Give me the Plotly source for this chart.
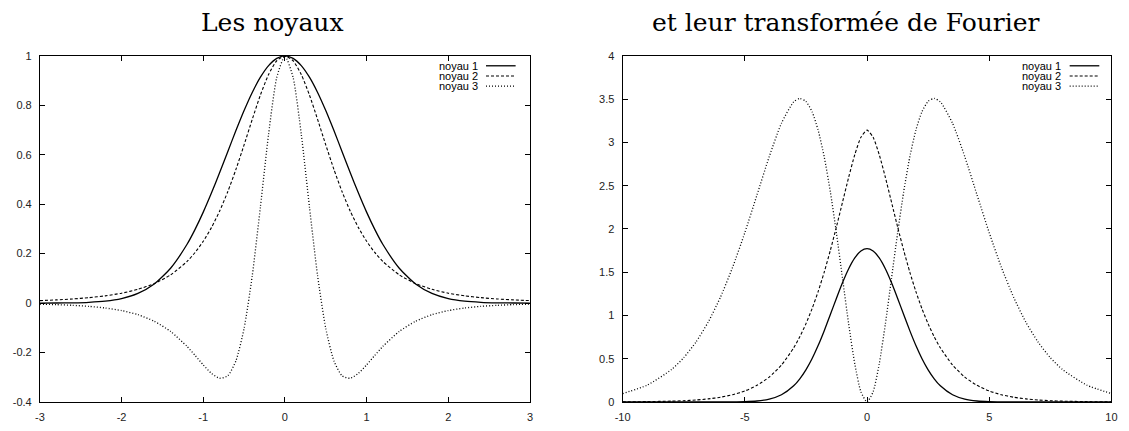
import plotly.graph_objects as go

# ---- noyaux (left panel) ----
x_noyau = [-3.0, -2.8, -2.6, -2.4, -2.2, -2.0, -1.8, -1.6, -1.4, -1.2, -1.1,
           -1.0, -0.9, -0.8, -0.7, -0.6, -0.5, -0.4, -0.3, -0.2, -0.1, 0.0,
           0.1, 0.2, 0.3, 0.4, 0.5, 0.6, 0.7, 0.8, 0.9, 1.0,
           1.1, 1.2, 1.4, 1.6, 1.8, 2.0, 2.2, 2.4, 2.6, 2.8, 3.0]
noyau_1 = [0.0001, 0.0004, 0.0012, 0.0032, 0.0079, 0.0183, 0.0392, 0.0773, 0.1409, 0.2369, 0.2982,
           0.3679, 0.4449, 0.5273, 0.6126, 0.6977, 0.7788, 0.8521, 0.9139, 0.9608, 0.9900, 1.0,
           0.9900, 0.9608, 0.9139, 0.8521, 0.7788, 0.6977, 0.6126, 0.5273, 0.4449, 0.3679,
           0.2982, 0.2369, 0.1409, 0.0773, 0.0392, 0.0183, 0.0079, 0.0032, 0.0012, 0.0004, 0.0001]
noyau_2 = [0.0100, 0.0128, 0.0166, 0.0219, 0.0293, 0.0400, 0.0556, 0.0789, 0.1141, 0.1680, 0.2047,
           0.2500, 0.3052, 0.3718, 0.4504, 0.5407, 0.6400, 0.7432, 0.8417, 0.9246, 0.9803, 1.0,
           0.9803, 0.9246, 0.8417, 0.7432, 0.6400, 0.5407, 0.4504, 0.3718, 0.3052, 0.2500,
           0.2047, 0.1680, 0.1141, 0.0789, 0.0556, 0.0400, 0.0293, 0.0219, 0.0166, 0.0128, 0.0100]
noyau_3 = [-0.0044, -0.0063, -0.0091, -0.0133, -0.0199, -0.0304, -0.0470, -0.0735, -0.1146, -0.1749, -0.2117,
           -0.2500, -0.2842, -0.3041, -0.2942, -0.2338, -0.1024, 0.1105, 0.3896, 0.6838, 0.9129, 1.0,
           0.9129, 0.6838, 0.3896, 0.1105, -0.1024, -0.2338, -0.2942, -0.3041, -0.2842, -0.2500,
           -0.2117, -0.1749, -0.1146, -0.0735, -0.0470, -0.0304, -0.0199, -0.0133, -0.0091, -0.0063, -0.0044]

# ---- transformées de Fourier (right panel) ----
w_fourier = [-10, -9, -8, -7.5, -7, -6.5, -6, -5.5, -5, -4.5, -4, -3.5, -3, -2.75, -2.5, -2.25,
             -2, -1.75, -1.5, -1.25, -1, -0.75, -0.5, -0.25, 0,
             0.25, 0.5, 0.75, 1, 1.25, 1.5, 1.75, 2, 2.25, 2.5, 2.75, 3, 3.5, 4,
             4.5, 5, 5.5, 6, 6.5, 7, 7.5, 8, 9, 10]
tf_1 = [0.0, 0.0, 0.0, 0.0, 0.0, 0.0, 0.0002, 0.0009, 0.0034, 0.0112, 0.0325, 0.0829, 0.1868, 0.2676, 0.3715, 0.4999,
        0.6521, 0.8243, 1.0099, 1.1993, 1.3804, 1.5400, 1.6651, 1.7450, 1.7725,
        1.7450, 1.6651, 1.5400, 1.3804, 1.1993, 1.0099, 0.8243, 0.6521, 0.4999, 0.3715, 0.2676, 0.1868, 0.0829, 0.0325,
        0.0112, 0.0034, 0.0009, 0.0002, 0.0, 0.0, 0.0, 0.0, 0.0, 0.0]
tf_2 = [0.0016, 0.0039, 0.0095, 0.0148, 0.0229, 0.0354, 0.0545, 0.0835, 0.1270, 0.1920, 0.2877, 0.4269, 0.6256, 0.7531, 0.9026, 1.0762,
        1.2755, 1.5013, 1.7525, 2.0252, 2.3115, 2.5970, 2.8582, 3.0584, 3.1416,
        3.0584, 2.8582, 2.5970, 2.3115, 2.0252, 1.7525, 1.5013, 1.2755, 1.0762, 0.9026, 0.7531, 0.6256, 0.4269, 0.2877,
        0.1920, 0.1270, 0.0835, 0.0545, 0.0354, 0.0229, 0.0148, 0.0095, 0.0039, 0.0016]
tf_3 = [0.0966, 0.1934, 0.3739, 0.5117, 0.6917, 0.9218, 1.2087, 1.5549, 1.9557, 2.3941, 2.8353, 3.2211, 3.4682, 3.5081, 3.4745, 3.3556,
        3.1425, 2.8318, 2.4287, 1.9490, 1.4237, 0.8998, 0.4401, 0.1177, 0.0,
        0.1177, 0.4401, 0.8998, 1.4237, 1.9490, 2.4287, 2.8318, 3.1425, 3.3556, 3.4745, 3.5081, 3.4682, 3.2211, 2.8353,
        2.3941, 1.9557, 1.5549, 1.2087, 0.9218, 0.6917, 0.5117, 0.3739, 0.1934, 0.0966]

series_names = ["noyau 1", "noyau 2", "noyau 3"]

# ---- tick labels ----
x1_ticks = [-3, -2, -1, 0, 1, 2, 3]
x1_labels = ["-3", "-2", "-1", "0", "1", "2", "3"]
y1_ticks = [-0.4, -0.2, 0, 0.2, 0.4, 0.6, 0.8, 1]
y1_labels = ["-0.4", "-0.2", "0", "0.2", "0.4", "0.6", "0.8", "1"]
x2_ticks = [-10, -5, 0, 5, 10]
x2_labels = ["-10", "-5", "0", "5", "10"]
y2_ticks = [0, 0.5, 1, 1.5, 2, 2.5, 3, 3.5, 4]
y2_labels = ["0", "0.5", "1", "1.5", "2", "2.5", "3", "3.5", "4"]

W, H = 1129, 431
dashes = ["solid", "3px,2px", "1px,2px"]
widths = [1.3, 1.1, 1.3]


def px_x(p):
    return p / W


def px_y(p):
    return 1 - p / H


left_dom = [px_x(32.3), px_x(528.5)]
right_dom = [px_x(622.3), px_x(1117.3)]
y_dom = [px_y(407.3), px_y(51.3)]

fig = go.Figure()
for ys, d, lw in zip([noyau_1, noyau_2, noyau_3], dashes, widths):
    fig.add_trace(go.Scatter(x=x_noyau, y=ys, mode="lines", xaxis="x", yaxis="y",
                             line=dict(color="black", width=lw, dash=d, shape="spline", smoothing=0.6),
                             showlegend=False, hoverinfo="skip"))
for ys, d, lw in zip([tf_1, tf_2, tf_3], dashes, widths):
    fig.add_trace(go.Scatter(x=w_fourier, y=ys, mode="lines", xaxis="x2", yaxis="y2",
                             line=dict(color="black", width=lw, dash=d, shape="spline", smoothing=0.6),
                             showlegend=False, hoverinfo="skip"))

tick_font = dict(family="Liberation Sans, Arial, sans-serif", size=11, color="#222")
axis_common = dict(showline=True, linecolor="black", linewidth=1, mirror="allticks",
                   ticks="inside", ticklen=5, tickwidth=1, tickcolor="black",
                   showgrid=False, zeroline=False, tickfont=tick_font, fixedrange=True)

fig.update_layout(
    width=W, height=H,
    margin=dict(l=0, r=0, t=0, b=0),
    paper_bgcolor="white", plot_bgcolor="white",
    xaxis=dict(domain=left_dom, range=[-3, 3], tickvals=x1_ticks, ticktext=x1_labels,
               anchor="y", ticklabelstandoff=5, **axis_common),
    yaxis=dict(domain=y_dom, range=[-0.4, 1], tickvals=y1_ticks, ticktext=y1_labels,
               anchor="x", ticklabelstandoff=5, **axis_common),
    xaxis2=dict(domain=right_dom, range=[-10, 10], tickvals=x2_ticks, ticktext=x2_labels,
                anchor="y2", ticklabelstandoff=5, **axis_common),
    yaxis2=dict(domain=y_dom, range=[0, 4], tickvals=y2_ticks, ticktext=y2_labels,
                anchor="x2", ticklabelstandoff=5, **axis_common),
)

title_font = dict(family="DejaVu Serif, serif", size=25, color="black")
fig.add_annotation(text="Les noyaux", xref="paper", yref="paper",
                   x=px_x(267.5), y=px_y(17), xanchor="center", yanchor="middle",
                   showarrow=False, font=title_font)
fig.add_annotation(text="et leur transformée de Fourier", xref="paper", yref="paper",
                   x=px_x(849), y=px_y(17), xanchor="center", yanchor="middle",
                   showarrow=False, font=title_font)

# key: text on the left, line sample on the right
legend_font = dict(family="Liberation Sans, Arial, sans-serif", size=11, color="black")
rows = [61.5, 72, 82.5]
for text_right, line_x0, line_x1 in [(478, 484, 514), (1068, 1075, 1105)]:
    for name, row, d, lw in zip(series_names, rows, dashes, widths):
        fig.add_annotation(text=name, xref="paper", yref="paper", x=px_x(text_right), y=px_y(row),
                           xanchor="right", yanchor="middle", showarrow=False, font=legend_font)
        fig.add_shape(type="line", xref="paper", yref="paper",
                      x0=px_x(line_x0), x1=px_x(line_x1), y0=px_y(row), y1=px_y(row),
                      line=dict(color="black", width=lw, dash=d))

fig.write_html("out.html")
